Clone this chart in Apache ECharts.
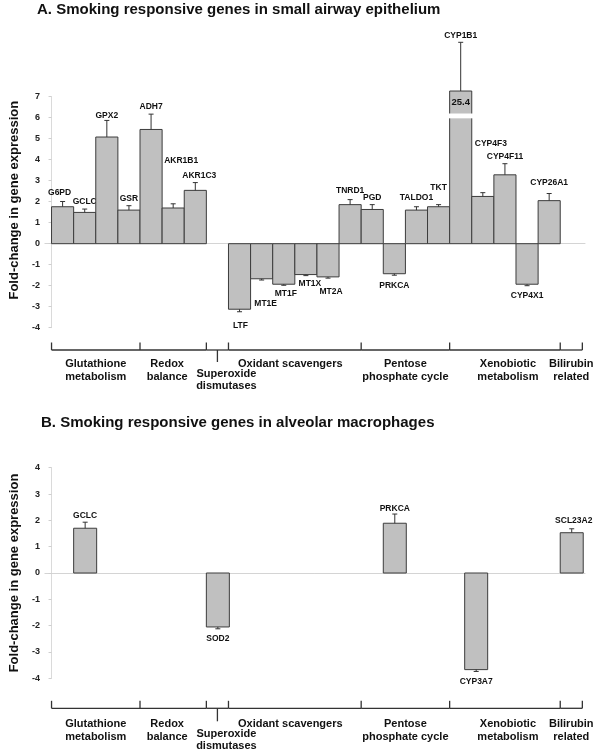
<!DOCTYPE html>
<html>
<head>
<meta charset="utf-8">
<script src="https://cdn.jsdelivr.net/npm/echarts@6/dist/echarts.min.js"></script>
<style>
html,body{margin:0;padding:0;background:#fff;}
#chart{width:600px;height:756px;}
</style>
</head>
<body>
<div id="chart"></div>
<script>
// ---------------- DATA ----------------
const titleA = 'A. Smoking responsive genes in small airway epithelium';
const titleB = 'B. Smoking responsive genes in alveolar macrophages';
const yAxisName = 'Fold-change in gene expression';

// Panel A: small airway epithelium (slot = position along the category strip)
const genesA  = ['G6PD','GCLC','GPX2','GSR','ADH7','AKR1B1','AKR1C3','LTF','MT1E','MT1F','MT1X','MT2A','TNRD1','PGD','PRKCA','TALDO1','TKT','CYP1B1','CYP4F3','CYP4F11','CYP4X1','CYP26A1'];
const slotsA  = [0,1,2,3,4,5,6,8,9,10,11,12,13,14,15,16,17,18,19,20,21,22];
const valuesA = [1.76,1.49,5.08,1.60,5.44,1.70,2.54,-3.12,-1.67,-1.93,-1.47,-1.58,1.86,1.63,-1.43,1.60,1.76,25.4,2.25,3.28,-1.93,2.05];
const errorsA = [0.25,0.16,0.79,0.21,0.73,0.20,0.37,0.12,0.06,0.05,0.05,0.06,0.24,0.23,0.07,0.16,0.10,2.32,0.18,0.53,0.07,0.34];

// Panel B: alveolar macrophages
const genesB  = ['GCLC','SOD2','PRKCA','CYP3A7','SCL23A2'];
const slotsB  = [1,7,15,18.68,23];
const valuesB = [1.70,-2.05,1.89,-3.67,1.53];
const errorsB = [0.23,0.07,0.35,0.07,0.15];

// Functional groups along the bottom strip
const groupNames  = ['Glutathione\nmetabolism','Redox\nbalance','Superoxide\ndismutases','Oxidant scavengers','Pentose\nphosphate cycle','Xenobiotic\nmetabolism','Bilirubin\nrelated'];
const groupStarts = [0,4,7,8,14,18,23];
const groupEnds   = [4,7,8,14,18,23,24];

// Axis ranges / ticks
const yRangeA = [-4, 7];
const yRangeB = [-4, 4];
const yTickStep = 1;

// ---------------- LAYOUT / STYLE ----------------
const FONT = '"Liberation Sans", Arial, Helvetica, sans-serif';
const BAR_FILL = '#c0c0c0';
const BAR_STROKE = '#3c3c3c';
const INK = '#111';
const X_MIN = -0.3, X_MAX = 24.12;
// broken bar (values beyond axis are drawn truncated with a white gap)
const BREAK = { threshold: 7, top: 7.27, gapLow: 5.97, gapHigh: 6.2 };
const LABEL_NUDGE_A = {
  G6PD:[-3,-2], GPX2:[0,2], AKR1B1:[8,-36], AKR1C3:[4,0], TNRD1:[0,-2], TALDO1:[0,-2],
  TKT:[0,-10], CYP4F3:[8,-42], CYP26A1:[0,-4],
  LTF:[1,4], MT1E:[4,14], MT1F:[2,-2], MT1X:[4,-2], MT2A:[3,4]
};
const LABEL_NUDGE_B = { PRKCA:[0,2], SCL23A2:[2,-1] };
const GROUP_NUDGE = [[0,0],[-6,0],[9,9.5],[-4.5,0],[0,0],[3,0],[0,0]];
const PANEL = {
  A: { grid:{left:40, right:15, top:96.7, bottom:428.3}, bracketGap:22.3, labelGap:36.6, downTick:12, barW:1.0 },
  B: { grid:{left:40, right:15, top:467.7, bottom:77.7}, bracketGap:30,   labelGap:46,   downTick:13, barW:1.04 }
};

function barRenderer(genes, nudges, barW) {
  return function (params, api) {
    const slot = api.value(0), v = api.value(1), e = api.value(2);
    const name = genes[params.dataIndex];
    const broken = v > BREAK.threshold;
    const shown = broken ? BREAK.top : v;
    const p0 = api.coord([slot, 0]);
    const p1 = api.coord([slot + barW, shown]);
    const x = p0[0], w = p1[0] - p0[0];
    const yTop = Math.min(p0[1], p1[1]), h = Math.abs(p1[1] - p0[1]);
    const cx = x + w / 2;
    const children = [{
      type: 'rect', shape: {x: x, y: yTop, width: w, height: h},
      style: {fill: BAR_FILL, stroke: BAR_STROKE, lineWidth: 1}
    }];
    let topLabelY = null;
    if (broken) {
      const g1 = api.coord([slot, BREAK.gapHigh])[1];
      const g0 = api.coord([slot, BREAK.gapLow])[1];
      children.push({type: 'rect', shape: {x: x - 1.5, y: g1, width: w + 3, height: g0 - g1},
        style: {fill: '#fff', stroke: null}});
      children.push({type: 'text', style: {text: String(v), x: cx, y: (p1[1] + g1) / 2,
        align: 'center', verticalAlign: 'middle', fontSize: 9.5, fontWeight: 'bold', fontFamily: FONT, fill: INK}});
    }
    const sign = shown >= 0 ? 1 : -1;
    const pe = api.coord([slot, shown + sign * e]);
    const yBar = p1[1];
    children.push({type: 'line', shape: {x1: cx, y1: yBar, x2: cx, y2: pe[1]}, style: {stroke: '#333', lineWidth: 1}});
    children.push({type: 'line', shape: {x1: cx - 2.5, y1: pe[1], x2: cx + 2.5, y2: pe[1]}, style: {stroke: '#333', lineWidth: 1}});
    const nd = nudges[name] || [0, 0];
    const ly = sign > 0 ? pe[1] - 7 : pe[1] + 10;
    children.push({type: 'text', style: {text: name, x: cx + nd[0], y: ly + nd[1],
      align: 'center', verticalAlign: 'middle', fontSize: 8.5, fontWeight: 'bold', fontFamily: FONT, fill: INK}});
    return {type: 'group', children: children};
  };
}

function groupRenderer(panel, yMin) {
  return function (params, api) {
    const i = params.dataIndex;
    const s = api.value(0), en = api.value(1);
    const base = api.coord([s, yMin])[1];
    const yLine = base + panel.bracketGap;
    const xs = api.coord([s, yMin])[0], xe = api.coord([en, yMin])[0];
    const st = {stroke: '#333', lineWidth: 1.3};
    const ch = [
      {type: 'line', shape: {x1: xs, y1: yLine, x2: xe, y2: yLine}, style: st},
      {type: 'line', shape: {x1: xs, y1: yLine - 7.5, x2: xs, y2: yLine}, style: st}
    ];
    if (i === groupStarts.length - 1) {
      ch.push({type: 'line', shape: {x1: xe, y1: yLine - 7.5, x2: xe, y2: yLine}, style: st});
    }
    const xm = api.coord([(s + en) / 2, yMin])[0];
    if (i === 2) {
      ch.push({type: 'line', shape: {x1: xm, y1: yLine, x2: xm, y2: yLine + panel.downTick}, style: st});
    }
    const nd = GROUP_NUDGE[i];
    ch.push({type: 'text', style: {text: groupNames[i], x: xm + nd[0], y: base + panel.labelGap - 6.2 + nd[1],
      align: 'center', verticalAlign: 'top', lineHeight: 12.4, fontSize: 11, fontWeight: 'bold', fontFamily: FONT, fill: INK}});
    return {type: 'group', children: ch};
  };
}

function makeX(gi) {
  return {
    type: 'value', gridIndex: gi, min: X_MIN, max: X_MAX,
    axisLine: {show: true, onZero: true, lineStyle: {color: '#d4d4d4', width: 1}},
    axisTick: {show: false}, axisLabel: {show: false}, splitLine: {show: false}
  };
}
function makeY(gi, range, namePad) {
  return {
    type: 'value', gridIndex: gi, min: range[0], max: range[1], interval: yTickStep,
    name: yAxisName, nameLocation: 'middle', nameGap: 15,
    nameTextStyle: {fontSize: 13, fontWeight: 'bold', fontFamily: FONT, color: INK, padding: namePad},
    axisLine: {show: true, lineStyle: {color: '#dadada'}},
    axisTick: {show: true, length: 3, lineStyle: {color: '#cfcfcf'}},
    axisLabel: {fontSize: 9, fontWeight: 'bold', fontFamily: FONT, color: '#222', margin: 5},
    splitLine: {show: false}
  };
}

const dataA = genesA.map((g, i) => [slotsA[i], valuesA[i], errorsA[i]]);
const dataB = genesB.map((g, i) => [slotsB[i], valuesB[i], errorsB[i]]);
const groupData = groupStarts.map((s, i) => [s, groupEnds[i]]);

const chart = echarts.init(document.getElementById('chart'), null, {renderer: 'canvas'});
chart.setOption({
  animation: false,
  backgroundColor: '#fff',
  title: [
    {text: titleA, left: 37, top: 2, padding: 0, textStyle: {fontSize: 15, fontWeight: 'bold', fontFamily: FONT, color: INK}},
    {text: titleB, left: 41, top: 415, padding: 0, textStyle: {fontSize: 15, fontWeight: 'bold', fontFamily: FONT, color: INK}}
  ],
  grid: [PANEL.A.grid, PANEL.B.grid],
  xAxis: [makeX(0), makeX(1)],
  yAxis: [makeY(0, yRangeA, [0, 0, 0, 24]), makeY(1, yRangeB, [0, 0, 0, 0])],
  series: [
    {type: 'custom', xAxisIndex: 0, yAxisIndex: 0, clip: false, data: dataA,
     encode: {x: 0, y: 1}, renderItem: barRenderer(genesA, LABEL_NUDGE_A, PANEL.A.barW)},
    {type: 'custom', xAxisIndex: 1, yAxisIndex: 1, clip: false, data: dataB,
     encode: {x: 0, y: 1}, renderItem: barRenderer(genesB, LABEL_NUDGE_B, PANEL.B.barW)},
    {type: 'custom', xAxisIndex: 0, yAxisIndex: 0, clip: false, data: groupData,
     encode: {x: [0, 1]}, renderItem: groupRenderer(PANEL.A, yRangeA[0])},
    {type: 'custom', xAxisIndex: 1, yAxisIndex: 1, clip: false, data: groupData,
     encode: {x: [0, 1]}, renderItem: groupRenderer(PANEL.B, yRangeB[0])}
  ]
});
</script>
</body>
</html>
